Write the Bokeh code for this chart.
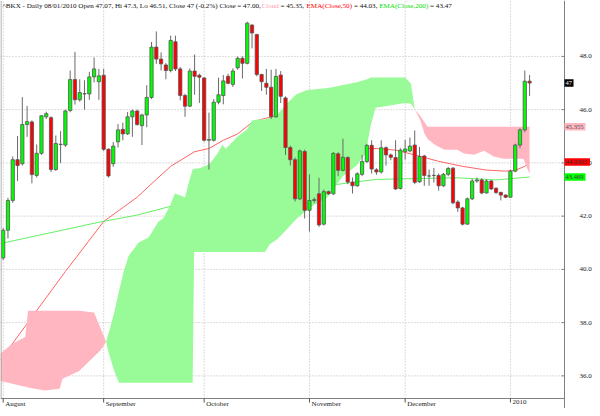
import numpy as np
from bokeh.plotting import figure
from bokeh.models import Range1d, ColumnDataSource
from bokeh.core.properties import value
from bokeh.embed import file_html
from bokeh.resources import INLINE

# ---------------- data (trading-day index 0 = 3 Aug 2009) ----------------
opens = [40.43, 41.47, 42.59, 44.12, 43.97, 45.44, 45.54, 43.53, 44.36, 45.73,
         45.70, 43.75, 44.69, 44.67, 45.97, 47.13, 46.37, 46.59, 46.59, 47.23,
         47.05, 47.29, 44.51, 43.97, 44.79, 45.26, 45.09, 45.73, 45.95, 45.40,
         45.80, 46.46, 48.35, 47.90, 47.68, 47.47, 48.55, 47.53, 46.53, 46.13,
         47.45, 47.29, 47.19, 44.85, 44.85, 46.28, 46.53, 47.25, 46.95, 47.57,
         47.93, 47.74, 49.18, 48.82, 47.32, 46.99, 46.84, 45.73, 47.30, 46.44,
         44.58, 44.12, 42.65, 44.43, 42.22, 42.59, 42.84, 41.70, 42.92, 42.84,
         44.34, 43.72, 44.20, 43.28, 43.14, 43.57, 44.05, 44.66, 43.74, 43.66,
         44.57, 44.30, 44.20, 43.04, 44.42, 44.45, 44.67, 43.29, 44.26, 43.51,
         43.53, 43.53, 43.14, 43.57, 43.80, 42.53, 42.31, 41.70, 42.65, 43.32,
         43.36, 42.87, 43.32, 43.05, 42.89, 42.79, 42.71, 43.69, 44.67, 45.24,
         47.07]
closes = [41.47, 42.59, 44.12, 43.90, 45.44, 45.55, 43.56, 44.36, 45.77, 45.85,
          43.75, 44.73, 44.70, 45.95, 47.13, 46.37, 46.64, 46.60, 47.23, 47.53,
          47.27, 44.51, 43.51, 44.63, 45.24, 45.09, 45.73, 45.95, 45.44, 45.80,
          46.46, 48.35, 47.90, 47.72, 47.47, 48.60, 47.53, 46.53, 46.13, 47.45,
          47.25, 47.22, 44.85, 44.88, 46.28, 46.56, 47.08, 46.99, 47.45, 47.93,
          47.74, 49.25, 48.88, 47.32, 47.05, 46.84, 45.73, 47.25, 46.50, 44.58,
          44.12, 42.65, 44.45, 42.22, 42.59, 42.62, 41.67, 42.92, 42.84, 44.36,
          43.72, 44.21, 43.28, 43.14, 43.59, 44.05, 44.66, 43.77, 43.66, 44.57,
          44.30, 44.21, 43.02, 44.48, 44.52, 44.63, 43.27, 44.24, 43.53, 43.51,
          43.53, 43.14, 43.57, 43.79, 42.50, 42.31, 41.70, 42.65, 43.32, 43.36,
          42.87, 43.32, 43.02, 42.89, 42.79, 42.71, 43.69, 44.67, 45.24, 47.07,
          47.00]
highs = [41.55, 42.69, 44.24, 45.01, 46.47, 46.14, 45.60, 44.69, 45.80, 45.92,
         45.75, 45.03, 45.19, 46.00, 47.47, 48.17, 47.14, 47.10, 47.42, 47.96,
         47.53, 47.53, 44.55, 44.79, 45.46, 45.51, 45.91, 46.00, 46.00, 45.85,
         46.92, 48.54, 48.94, 48.15, 47.75, 48.78, 48.78, 47.60, 46.60, 47.55,
         48.07, 47.35, 47.22, 45.89, 46.40, 47.20, 47.30, 47.35, 47.55, 48.00,
         48.00, 49.30, 49.20, 48.85, 47.35, 47.53, 47.50, 47.53, 47.45, 46.50,
         44.65, 44.20, 44.50, 44.50, 43.57, 42.70, 43.44, 43.00, 42.96, 44.40,
         44.40, 44.91, 44.25, 43.45, 43.65, 44.30, 44.72, 44.85, 43.80, 44.85,
         44.62, 44.35, 44.85, 44.55, 44.87, 44.95, 45.22, 44.60, 44.30, 43.75,
         43.81, 43.60, 43.62, 43.85, 43.85, 42.60, 42.35, 42.70, 43.40, 43.45,
         43.42, 43.38, 43.36, 43.08, 42.92, 42.82, 43.75, 44.72, 45.30, 47.47,
         47.30]
lows = [40.35, 41.16, 42.50, 43.32, 43.90, 44.98, 43.23, 43.45, 44.30, 45.65,
        43.66, 43.70, 43.99, 44.60, 45.90, 46.19, 46.30, 46.00, 46.37, 47.02,
        46.37, 44.45, 43.45, 43.85, 44.58, 44.85, 45.05, 44.98, 45.40, 44.67,
        45.34, 46.40, 47.72, 47.47, 47.14, 47.40, 47.45, 46.35, 45.73, 46.10,
        46.56, 46.25, 44.80, 43.75, 44.80, 46.20, 46.20, 46.95, 46.85, 47.50,
        47.17, 47.70, 48.30, 47.25, 46.70, 46.56, 45.65, 45.70, 46.25, 44.30,
        43.90, 42.55, 42.60, 41.91, 41.42, 42.50, 41.60, 41.65, 42.80, 42.80,
        43.50, 43.68, 43.20, 42.85, 43.10, 43.50, 44.00, 43.60, 43.55, 43.60,
        43.90, 44.10, 42.98, 43.00, 44.12, 44.40, 43.20, 43.25, 43.14, 43.14,
        43.26, 42.96, 43.10, 43.50, 42.45, 42.16, 41.65, 41.68, 42.60, 43.25,
        42.82, 42.85, 42.98, 42.83, 42.59, 42.68, 42.70, 43.65, 44.55, 45.15,
        46.51]

# EMA lines (x = trading-day index)
ema50_x = [-0.56, 13, 21, 28, 32, 35, 40, 43, 46, 49, 52, 54, 57, 62, 67, 72,
           76, 78, 82, 86, 91, 96, 101, 105, 107, 109, 110]
ema50 = [36.60, 39.92, 41.80, 42.71, 43.38, 43.87, 44.42, 44.54, 44.85, 45.09,
         45.52, 45.64, 45.77, 45.50, 45.10, 44.70, 44.54, 44.54, 44.48, 44.30,
         44.06, 43.87, 43.73, 43.69, 43.72, 43.87, 44.03]
ema200_x = [-0.56, 20, 28, 35, 45, 55, 65, 74, 78, 86, 95, 103, 110]
ema200 = [40.97, 41.77, 42.04, 42.37, 42.60, 42.85, 43.08, 43.29, 43.38, 43.41,
          43.44, 43.36, 43.47]

# Ichimoku cloud spans
cloud_x = [-0.56, 1.9, 4.6, 5.2, 8.7, 11.8, 12.4, 15.9, 19.0, 20.5,
           21.5, 22.1, 23.2, 24.2, 25.2, 26.2, 28.3, 30.4, 32.4, 33.5,
           34.9, 35.9, 37.2, 38.0, 38.6, 39.6, 39.9, 41.1, 42.1, 43.2,
           44.8, 45.8, 46.5, 47.5, 48.9, 51.0, 52.0, 53.1, 54.7, 55.7,
           57.2, 59.2, 61.3, 63.4, 64.8, 67.5, 69.1, 71.0, 73.7, 75.7,
           76.1, 76.8, 77.8, 84.0, 85.2, 86.0, 87.1, 88.1, 88.7, 90.2,
           92.2, 94.9, 96.3, 98.4, 100.5, 102.5, 104.6, 108.7, 110.0]
span_a = [35.81, 35.70, 35.59, 35.56, 35.45, 35.52, 35.89, 36.18, 36.73, 36.99,
          37.28, 37.64, 38.38, 39.18, 39.92, 40.50, 41.01, 41.20, 41.78, 41.93,
          42.41, 42.85, 42.77, 42.70, 43.14, 43.76, 43.78, 43.80, 43.87, 43.98,
          44.35, 44.68, 44.53, 44.71, 44.97, 45.26, 45.59, 45.63, 45.63, 45.70,
          45.78, 46.22, 46.58, 46.73, 46.76, 46.80, 46.85, 46.93, 47.02, 47.12,
          47.14, 47.21, 47.21, 47.21, 46.98, 46.01, 45.63, 45.08, 44.90, 44.68,
          44.49, 44.49, 44.35, 44.31, 44.46, 44.24, 44.16, 44.16, 43.58]
span_b = [36.84, 37.21, 37.46, 38.45, 38.45, 38.45, 38.45, 38.45, 38.38, 37.72,
          37.28, 36.84, 36.18, 35.74, 35.74, 35.74, 35.74, 35.74, 35.74, 35.74,
          35.74, 35.74, 35.74, 35.74, 35.74, 35.74, 40.65, 40.65, 40.65, 40.65,
          40.65, 40.65, 40.65, 40.65, 40.65, 40.65, 40.65, 40.65, 40.65, 40.94,
          41.12, 41.49, 41.90, 42.20, 42.41, 42.66, 43.03, 43.51, 43.87, 44.35,
          44.71, 45.40, 46.07, 46.25, 46.22, 46.01, 45.78, 45.52, 45.355, 45.355,
          45.355, 45.355, 45.355, 45.355, 45.355, 45.355, 45.355, 45.355, 45.355]

month_ticks = [0, 21, 42, 64, 84, 106]
month_names = ["August", "September", "October", "November", "December", "2010"]
y_ticks = [36, 38, 40, 42, 44, 46, 48]
y_tick_labels = ["36.0", "38.0", "40.0", "42.0", "44.0", "46.0", "48.0"]

title_parts = ["^BKX - Daily 08/01/2010 Open 47.07, Hi 47.3, Lo 46.51, Close 47 (-0.2%) Close = 47.00,",
               "Cloud", "= 45.35,", "EMA(Close,50)", "= 44.03,", "EMA(Close,200)", "= 43.47"]
title_colors = ["#111111", "#ff9aa6", "#111111", "#ff0000", "#111111", "#00dd00", "#111111"]

last_labels = ["47", "45.355", "44.0303", "43.469"]
last_values = [47.00, 45.355, 44.0303, 43.469]
last_bg = ["#000000", "#ffb6c1", "#ff0000", "#00ff00"]
last_fg = ["#ffffff", "#505050", "#303030", "#404040"]

assert len(opens) == len(closes) == len(highs) == len(lows)
assert len(cloud_x) == len(span_a) == len(span_b)

# ---------------- layout constants (pixels) ----------------
W, H = 592, 408
AXIS_PX, BOTTOM_PX = 564, 398          # right axis line / bottom axis line
X_LO, AXIS_X = -0.56, 117.3            # data x at left edge / at right axis
Y_TOP, Y_AXIS = 50.1, 35.15            # data y at top edge / at bottom axis
PX_X = AXIS_PX / (AXIS_X - X_LO)
PX_Y = BOTTOM_PX / (Y_TOP - Y_AXIS)
X_HI = X_LO + W / PX_X
Y_BOT = Y_TOP - H / PX_Y


def dx(px):
    return px / PX_X


def dy(px):
    return px / PX_Y


title_px = [2, 261, 280, 306, 353.4, 378.7, 429.6]
box_px = [9, 21, 25.5, 21]

p = figure(width=W, height=H, output_backend="svg", toolbar_location=None,
           x_range=Range1d(X_LO, X_HI), y_range=Range1d(Y_BOT, Y_TOP),
           x_axis_location=None, y_axis_location=None,
           min_border_left=0, min_border_top=0, min_border_right=0, min_border_bottom=0)
p.outline_line_color = None
p.background_fill_color = "white"
p.border_fill_color = "white"
p.xgrid.visible = False
p.ygrid.visible = False

serif = value("Liberation Serif")
GRID = "#b8b8b8"
AXC = "#808080"

# dotted grid
p.segment(x0=[X_LO] * len(y_ticks), y0=y_ticks, x1=[AXIS_X] * len(y_ticks), y1=y_ticks,
          line_color=GRID, line_dash="1 2", line_width=1)
p.segment(x0=month_ticks, y0=[Y_AXIS] * len(month_ticks), x1=month_ticks, y1=[Y_TOP] * len(month_ticks),
          line_color=GRID, line_dash="1 2", line_width=1)

# EMA lines (under the cloud)
p.line(ema50_x, ema50, line_color="#ff6464", line_width=1)
p.line(ema200_x, ema200, line_color="#66ee66", line_width=1)

# cloud
a = np.array(span_a)
b = np.array(span_b)
upper = np.maximum(a, b)
p.varea(x=cloud_x, y1=b, y2=upper, fill_color="#98fb98", fill_alpha=1.0)
p.varea(x=cloud_x, y1=a, y2=upper, fill_color="#ffb6c1", fill_alpha=1.0)

# candles
o = np.array(opens)
c = np.array(closes)
idx = np.arange(len(opens))
src = ColumnDataSource(dict(
    x=idx, top=np.maximum(o, c), bottom=np.minimum(o, c),
    color=np.where(c >= o, "#00ff00", "#ff0000"),
    hi=highs, lo=lows))
p.segment(x0="x", y0="lo", x1="x", y1="hi", line_color="#6a6a6a", line_width=1, source=src)
p.vbar(x="x", width=0.68, top="top", bottom="bottom", fill_color="color",
       line_color="#555555", line_width=0.8, source=src)

# axes lines and ticks
p.segment(x0=[AXIS_X], y0=[Y_BOT], x1=[AXIS_X], y1=[Y_TOP], line_color=AXC, line_width=1)
p.segment(x0=[X_LO], y0=[Y_AXIS], x1=[AXIS_X], y1=[Y_AXIS], line_color=AXC, line_width=1)
p.segment(x0=[X_LO + dx(0.5)], y0=[Y_AXIS], x1=[X_LO + dx(0.5)], y1=[Y_TOP], line_color="#9a9a9a", line_width=1)
p.segment(x0=[AXIS_X - dx(3)] * len(y_ticks), y0=y_ticks, x1=[AXIS_X] * len(y_ticks), y1=y_ticks,
          line_color=AXC, line_width=1)
p.segment(x0=month_ticks, y0=[Y_AXIS] * len(month_ticks), x1=month_ticks,
          y1=[Y_AXIS - dy(4)] * len(month_ticks), line_color="#505050", line_width=1)

# tick labels
p.text(x=[AXIS_X + dx(15)] * len(y_ticks), y=y_ticks, text=y_tick_labels,
       text_font=serif, text_font_size=value("7px"), text_color="#222222",
       text_align="left", text_baseline="middle")
p.text(x=[m + dx(2) for m in month_ticks], y=[Y_AXIS - dy(1)] * len(month_ticks), text=month_names,
       text_font=serif, text_font_size=value("7px"), text_color="#222222",
       text_align="left", text_baseline="top")

# title pieces
p.text(x=[X_LO + dx(px) for px in title_px], y=[Y_TOP - dy(1)] * len(title_parts), text=title_parts,
       text_color=title_colors, text_font=serif, text_font_size=value("7.1px"),
       text_align="left", text_baseline="top")

# last-value boxes on the right axis
p.rect(x=[AXIS_X + dx(w / 2) for w in box_px], y=last_values, width=box_px,
       height=[7.5] * len(box_px), width_units="screen", height_units="screen",
       fill_color=last_bg, line_color=None)
p.text(x=[AXIS_X + dx(1)] * len(last_labels), y=last_values, text=last_labels,
       text_color=last_fg, text_font=serif, text_font_size=value("6.5px"),
       text_align="left", text_baseline="middle")

open("out.html", "w").write(file_html(p, INLINE))
